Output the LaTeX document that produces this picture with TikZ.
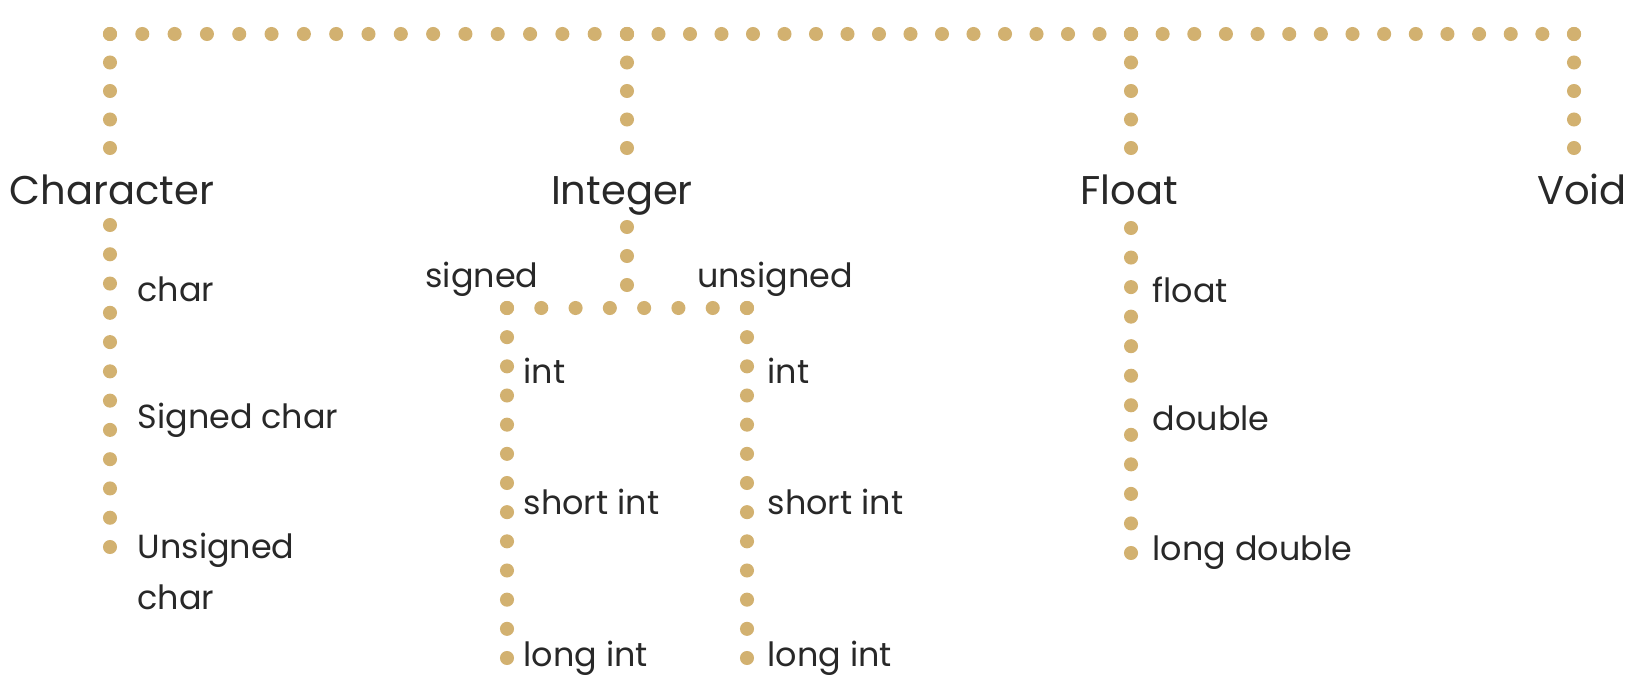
\documentclass[tikz,border=0pt]{standalone}
\usepackage{fontspec}
\setmainfont{Poppins}
\usetikzlibrary{calc}

\definecolor{dotgold}{RGB}{210,177,112}
\definecolor{txtgray}{RGB}{40,40,40}

\tikzset{
 typename/.style={font=\fontsize{11.4}{13}\selectfont, text=txtgray, inner sep=0pt, anchor=base},
 subname/.style={font=\fontsize{9.5}{11}\selectfont, text=txtgray, inner sep=0pt, anchor=base west},
 golddot/.style={fill=dotgold}
}

% dotted connector: from, to, number of gaps
\newcommand{\dotrow}[3]{%
 \foreach \k in {0,...,#3}
 \fill[golddot] ($(#1)!\k/#3!(#2)$) circle[radius=2pt];
}

\begin{document}
\begin{tikzpicture}[x=0.01cm, y=-0.01cm]
%\draw[help lines] (0,0) grid[step=100] (1631,676);
 \useasboundingbox (0,0) rectangle (1631,676);

 % type names
 \node[typename] (chr) at (112,204) {Character};
 \node[typename] (intg) at (622,204) {Integer};
 \node[typename] (flt) at (1129,204) {Float};
 \node[typename] (vd) at (1582,204) {Void};

 \node[subname, anchor=base] (sgn) at (482,287) {signed};
 \node[subname, anchor=base] (usgn) at (775,287) {unsigned};

 % top bar
 \coordinate (tchr) at (110,34);
 \coordinate (tint) at (627,34);
 \coordinate (tflt) at (1131,34);
 \coordinate (tvd) at (1574,34);
 \dotrow{tchr}{tint}{16}
 \dotrow{tint}{tflt}{16}
 \dotrow{tflt}{tvd}{14}

 % drops to the type names
 \coordinate (uchr) at (110,148);
 \coordinate (uint) at (627,148);
 \coordinate (uflt) at (1131,148);
 \coordinate (uvd) at (1574,148);
 \dotrow{tchr}{uchr}{4}
 \dotrow{tint}{uint}{4}
 \dotrow{tflt}{uflt}{4}
 \dotrow{tvd}{uvd}{4}

 % character
 \coordinate (chra) at (110,225);
 \coordinate (chrb) at (110,547);
 \dotrow{chra}{chrb}{11}
 \node[subname] (c1) at (137,301) {char};
 \node[subname] (c2) at (137,428) {Signed char};
 \node[subname] (c3) at (137,558) {Unsigned};
 \node[subname] (c4) at (137,609) {char};

 % integer
 \coordinate (inta) at (627,227);
 \coordinate (intb) at (627,285);
 \dotrow{inta}{intb}{2}
 \coordinate (sgna) at (507,308);
 \coordinate (usgna) at (747,308);
 \dotrow{sgna}{usgna}{7}
 \coordinate (sgnb) at (507,658);
 \coordinate (usgnb) at (747,658);
 \dotrow{sgna}{sgnb}{12}
 \dotrow{usgna}{usgnb}{12}
 \node[subname] (s1) at (523,383) {int};
 \node[subname] (s2) at (523,514) {short int};
 \node[subname] (s3) at (523,666) {long int};
 \node[subname] (u1) at (767,383) {int};
 \node[subname] (u2) at (767,514) {short int};
 \node[subname] (u3) at (767,666) {long int};

 % float
 \coordinate (flta) at (1131,228);
 \coordinate (fltb) at (1131,553);
 \dotrow{flta}{fltb}{11}
 \node[subname] (f1) at (1152,302) {float};
 \node[subname] (f2) at (1152,430) {double};
 \node[subname] (f3) at (1152,560) {long double};

\end{tikzpicture}
\end{document}
